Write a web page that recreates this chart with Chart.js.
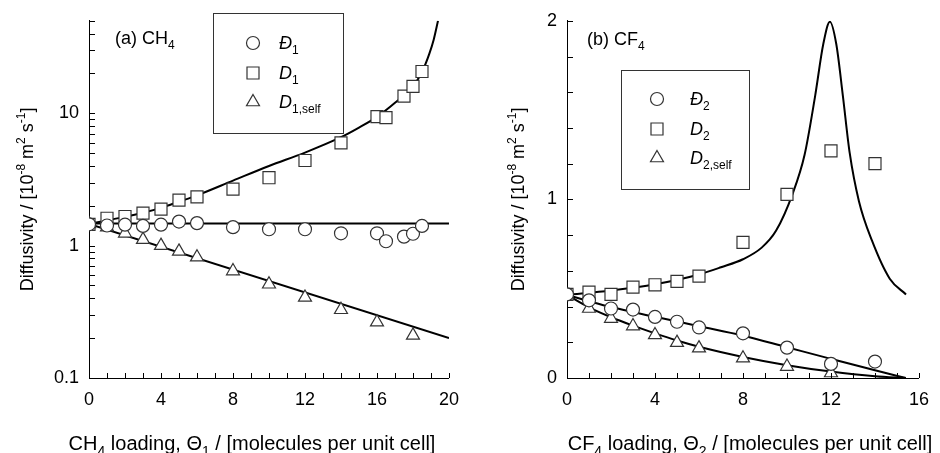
<!DOCTYPE html>
<html>
<head>
<meta charset="utf-8">
<script src="https://cdn.jsdelivr.net/npm/chart.js@4.4.1/dist/chart.umd.min.js"></script>
<style>
  html, body { margin: 0; padding: 0; background: #fff; }
  .panel { position: absolute; top: 0; width: 470px; height: 453px; }
</style>
</head>
<body>
<div class="panel" style="left:0"><canvas id="chartA" width="470" height="453"></canvas></div>
<div class="panel" style="left:470px"><canvas id="chartB" width="470" height="453"></canvas></div>
<script>
// ---- (a) CH4 : simulation points ----
const ch4Loading     = [0, 1, 2, 3, 4, 5, 6, 8, 10, 12, 14, 16, 16.5, 17.5, 18, 18.5];
const ch4MS          = [1.45, 1.42, 1.44, 1.41, 1.44, 1.52, 1.48, 1.38, 1.33, 1.33, 1.24, 1.24, 1.08, 1.17, 1.23, 1.41];
const ch4Fick        = [1.45, 1.61, 1.66, 1.76, 1.89, 2.21, 2.34, 2.67, 3.26, 4.40, 5.97, 9.43, 9.27, 13.5, 16.0, 20.7];
const ch4SelfLoading = [0, 1, 2, 3, 4, 5, 6, 8, 10, 12, 14, 16, 18];
const ch4Self        = [1.46, 1.38, 1.24, 1.11, 1.0, 0.906, 0.818, 0.643, 0.511, 0.406, 0.328, 0.264, 0.210];

// ---- (a) CH4 : model curves ----
const ch4MSFitLoading   = [0, 20];
const ch4MSFit          = [1.47, 1.47];
const ch4FickFitLoading = [0, 1, 2, 3, 4, 5, 6, 8, 10, 12, 14, 15, 16, 17, 18, 18.5, 18.9, 19.15, 19.39];
const ch4FickFit        = [1.46, 1.55, 1.65, 1.77, 1.93, 2.15, 2.4, 3.1, 4.0, 5.05, 6.6, 7.8, 9.4, 12.0, 16.0, 20.5, 28, 36, 50];
const ch4SelfFitLoading = [0, 20];
const ch4SelfFit        = [1.46, 0.2];

// ---- (b) CF4 : simulation points ----
const cf4Loading     = [0, 1, 2, 3, 4, 5, 6, 8, 10, 12, 14];
const cf4MS          = [0.468, 0.435, 0.389, 0.383, 0.342, 0.315, 0.283, 0.250, 0.170, 0.079, 0.092];
const cf4Fick        = [0.468, 0.481, 0.468, 0.509, 0.522, 0.541, 0.570, 0.759, 1.028, 1.272, 1.20];
const cf4SelfLoading = [0, 1, 2, 3, 4, 5, 6, 8, 10, 12];
const cf4Self        = [0.463, 0.389, 0.333, 0.291, 0.241, 0.198, 0.167, 0.111, 0.064, 0.028];

// ---- (b) CF4 : model curves ----
const cf4MSFitLoading   = [0, 1, 2, 4, 6, 8, 10, 12, 14, 15.4];
const cf4MSFit          = [0.465, 0.43, 0.397, 0.343, 0.29, 0.237, 0.172, 0.107, 0.043, 0];
const cf4SelfFitLoading = [0, 1, 2, 3, 4, 5, 6, 8, 10, 12, 14, 15.4];
const cf4SelfFit        = [0.465, 0.395, 0.34, 0.293, 0.25, 0.21, 0.175, 0.118, 0.072, 0.036, 0.01, 0];
const cf4FickFitLoading = [0, 2, 4, 6, 7, 8, 8.85, 9.5, 10.25, 10.8, 11.28, 11.65, 11.95, 12.24, 12.54, 12.85, 13.27, 13.86, 14.67, 15.41];
const cf4FickFit        = [0.465, 0.49, 0.525, 0.58, 0.62, 0.665, 0.73, 0.824, 1.03, 1.25, 1.58, 1.87, 1.995, 1.87, 1.58, 1.26, 0.99, 0.77, 0.556, 0.468];

// ---- axis ticks ----
const ch4XTicks = [0, 4, 8, 12, 16, 20];
const ch4YTicks = [0.1, 1, 10];
const cf4XTicks = [0, 4, 8, 12, 16];
const cf4YTicks = [0, 1, 2];

const FONT = 'Arial, "Liberation Sans", Helvetica, sans-serif';
const INK = '#000';
const MARK = '#333';
const FS = 18;

const xy = (xs, ys) => xs.map((x, i) => ({ x, y: ys[i] }));

// tiny markup: _{sub} ^{sup} *italic*
function parseRich(s) {
  const out = [];
  const re = /_\{([^}]*)\}|\^\{([^}]*)\}|\*([^*]*)\*|([^_^*]+)/g;
  let m;
  while ((m = re.exec(s))) {
    if (m[1] !== undefined) out.push({ t: m[1], k: 'sub' });
    else if (m[2] !== undefined) out.push({ t: m[2], k: 'sup' });
    else if (m[3] !== undefined) out.push({ t: m[3], k: 'it' });
    else out.push({ t: m[4], k: '' });
  }
  return out;
}

function segFont(k, size) {
  const sz = (k === 'sub' || k === 'sup') ? Math.round(size * 0.68) : size;
  return (k === 'it' ? 'italic ' : '') + sz + 'px ' + FONT;
}

function drawRich(ctx, s, x, y, size, align) {
  const parts = parseRich(s);
  ctx.save();
  ctx.textBaseline = 'alphabetic';
  ctx.textAlign = 'left';
  ctx.fillStyle = INK;
  let w = 0;
  parts.forEach(p => { ctx.font = segFont(p.k, size); p.w = ctx.measureText(p.t).width; w += p.w; });
  let cx = align === 'center' ? x - w / 2 : x;
  parts.forEach(p => {
    ctx.font = segFont(p.k, size);
    const dy = p.k === 'sub' ? size * 0.3 : p.k === 'sup' ? -size * 0.42 : 0;
    ctx.fillText(p.t, cx, y + dy);
    cx += p.w;
  });
  ctx.restore();
}

function marker(ctx, style, x, y) {
  ctx.save();
  ctx.strokeStyle = MARK;
  ctx.fillStyle = '#fff';
  ctx.lineWidth = 1.2;
  ctx.beginPath();
  if (style === 'circle') ctx.arc(x, y, 6.5, 0, Math.PI * 2);
  else if (style === 'rect') ctx.rect(x - 6, y - 6, 12, 12);
  else {
    const r = 7.5;
    ctx.moveTo(x, y - r);
    ctx.lineTo(x + r * 0.866, y + r / 2);
    ctx.lineTo(x - r * 0.866, y + r / 2);
    ctx.closePath();
  }
  ctx.fill();
  ctx.stroke();
  ctx.restore();
}

// axis titles, panel label, boxed legend and inward tick marks
const decor = {
  id: 'decor',
  afterDraw(chart, args, o) {
    const { ctx, chartArea: a, scales } = chart;
    const sx = scales.x, sy = scales.y;

    ctx.save();
    ctx.strokeStyle = INK;
    ctx.lineWidth = 1;
    ctx.beginPath();
    for (let v = sx.min; v <= sx.max + 1e-9; v += o.xStep) {
      const px = Math.round(sx.getPixelForValue(v)) + 0.5;
      ctx.moveTo(px, a.bottom);
      ctx.lineTo(px, a.bottom - 5);
    }
    o.yMinor.forEach(v => {
      const py = Math.round(sy.getPixelForValue(v)) + 0.5;
      ctx.moveTo(a.left, py);
      ctx.lineTo(a.left + 6, py);
    });
    ctx.stroke();
    ctx.restore();

    drawRich(ctx, o.label.text, o.label.x, o.label.y, FS, 'left');
    drawRich(ctx, o.xTitle, o.xTitleX, o.xTitleY, 20, 'center');

    ctx.save();
    ctx.translate(o.yTitleX, (a.top + a.bottom) / 2);
    ctx.rotate(-Math.PI / 2);
    drawRich(ctx, o.yTitle, 0, 0, FS, 'center');
    ctx.restore();

    const L = o.legend;
    ctx.save();
    ctx.strokeStyle = '#333';
    ctx.lineWidth = 1;
    ctx.strokeRect(L.box[0] + 0.5, L.box[1] + 0.5, L.box[2], L.box[3]);
    ctx.restore();
    L.styles.forEach((st, i) => {
      marker(ctx, st, L.mx, L.ys[i]);
      drawRich(ctx, L.labels[i], L.lx, L.ys[i] + 6, FS, 'left');
    });
  }
};

function pointSet(data, style, radius) {
  return {
    data, showLine: false, order: 0,
    pointStyle: style, pointRadius: radius, pointHoverRadius: radius,
    pointBackgroundColor: '#fff', pointBorderColor: MARK, pointBorderWidth: 1.2
  };
}

function curveSet(data) {
  return {
    data, showLine: true, order: 1,
    borderColor: INK, borderWidth: 2, pointRadius: 0,
    cubicInterpolationMode: 'monotone', fill: false
  };
}

function baseScales(xTicks, yTicks, yType, yMin, yMax, xMax, yWidth) {
  const tickFont = { family: FONT, size: FS };
  return {
    x: {
      type: 'linear', min: 0, max: xMax,
      afterBuildTicks: s => { s.ticks = xTicks.map(v => ({ value: v })); },
      afterFit: s => { s.height = 75; },
      grid: { display: false, drawTicks: false },
      border: { display: true, color: INK, width: 1 },
      ticks: { color: INK, font: tickFont, padding: 11, maxRotation: 0 }
    },
    y: {
      type: yType, min: yMin, max: yMax,
      afterBuildTicks: s => { s.ticks = yTicks.map(v => ({ value: v })); },
      afterFit: s => { s.width = yWidth; },
      grid: { display: false, drawTicks: false },
      border: { display: true, color: INK, width: 1 },
      ticks: { color: INK, font: tickFont, padding: 10, callback: v => String(v) }
    }
  };
}

const logMinor = [];
[0.1, 1, 10].forEach(d => { for (let k = 1; k <= 9; k++) { const v = +(d * k).toPrecision(3); if (v <= 50) logMinor.push(v); } });
const linMinor = [];
for (let k = 0; k <= 10; k++) linMinor.push(+(k * 0.2).toFixed(1));

Chart.defaults.animation = false;

new Chart(document.getElementById('chartA'), {
  type: 'scatter',
  data: {
    datasets: [
      pointSet(xy(ch4Loading, ch4MS), 'circle', 6.5),
      pointSet(xy(ch4Loading, ch4Fick), 'rect', 8.5),
      pointSet(xy(ch4SelfLoading, ch4Self), 'triangle', 7.5),
      curveSet(xy(ch4MSFitLoading, ch4MSFit)),
      curveSet(xy(ch4FickFitLoading, ch4FickFit)),
      curveSet(xy(ch4SelfFitLoading, ch4SelfFit))
    ]
  },
  options: {
    responsive: false,
    layout: { padding: { top: 18, right: 19, left: 0, bottom: 0 } },
    plugins: {
      legend: { display: false },
      tooltip: { enabled: false },
      decor: {
        xStep: 1, yMinor: logMinor,
        label: { text: '(a) CH_{4}', x: 115, y: 44 },
        xTitle: 'CH_{4} loading, Θ_{1} / [molecules per unit cell]', xTitleX: 252, xTitleY: 450,
        yTitle: 'Diffusivity / [10^{-8} m^{2} s^{-1}]', yTitleX: 33,
        legend: {
          box: [213, 13, 130, 120], mx: 253, lx: 279, ys: [43, 73, 102],
          styles: ['circle', 'rect', 'triangle'],
          labels: ['*Đ*_{1}', '*D*_{1}', '*D*_{1,self}']
        }
      }
    },
    scales: baseScales(ch4XTicks, ch4YTicks, 'logarithmic', 0.1, 50, 20, 89)
  },
  plugins: [decor]
});

new Chart(document.getElementById('chartB'), {
  type: 'scatter',
  data: {
    datasets: [
      pointSet(xy(cf4Loading, cf4MS), 'circle', 6.5),
      pointSet(xy(cf4Loading, cf4Fick), 'rect', 8.5),
      pointSet(xy(cf4SelfLoading, cf4Self), 'triangle', 7.5),
      curveSet(xy(cf4MSFitLoading, cf4MSFit)),
      curveSet(xy(cf4FickFitLoading, cf4FickFit)),
      curveSet(xy(cf4SelfFitLoading, cf4SelfFit))
    ]
  },
  options: {
    responsive: false,
    layout: { padding: { top: 19, right: 12, left: 0, bottom: 0 } },
    plugins: {
      legend: { display: false },
      tooltip: { enabled: false },
      decor: {
        xStep: 1, yMinor: linMinor,
        label: { text: '(b) CF_{4}', x: 117, y: 45 },
        xTitle: 'CF_{4} loading, Θ_{2} / [molecules per unit cell]', xTitleX: 280, xTitleY: 450,
        yTitle: 'Diffusivity / [10^{-8} m^{2} s^{-1}]', yTitleX: 54,
        legend: {
          box: [151, 70, 128, 119], mx: 187, lx: 220, ys: [99, 129, 158],
          styles: ['circle', 'rect', 'triangle'],
          labels: ['*Đ*_{2}', '*D*_{2}', '*D*_{2,self}']
        }
      }
    },
    scales: baseScales(cf4XTicks, cf4YTicks, 'linear', 0, 2, 16, 97)
  },
  plugins: [decor]
});
</script>
</body>
</html>
